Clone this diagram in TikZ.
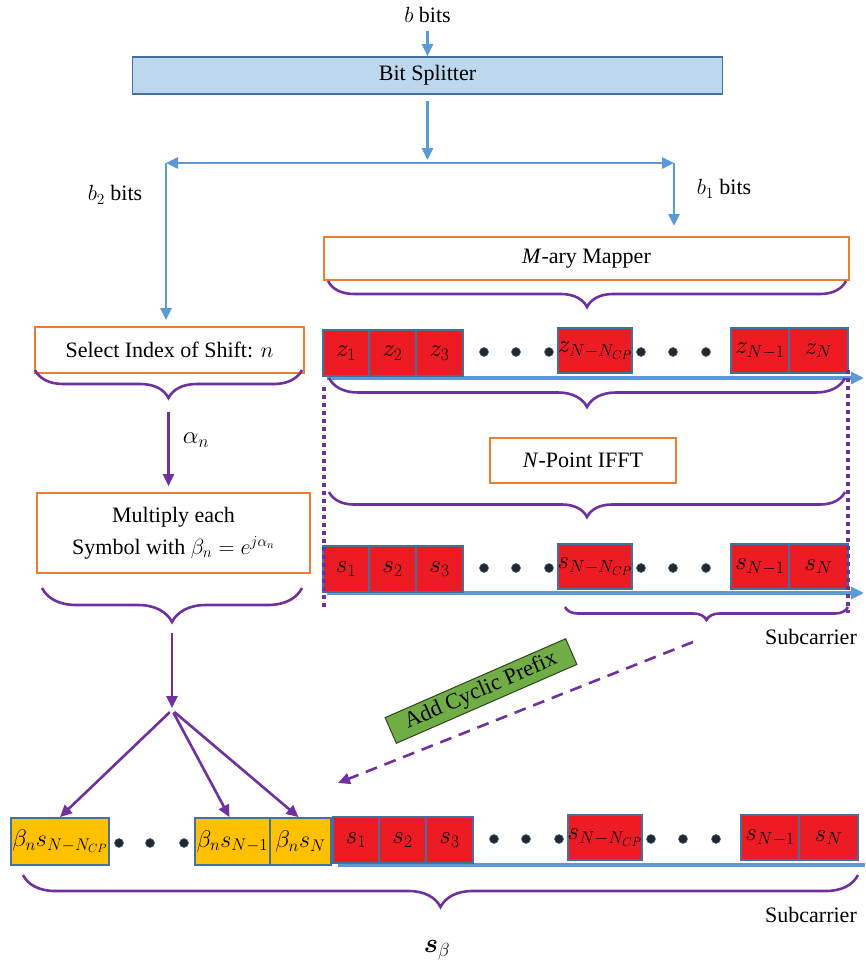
\RequirePackage{fix-cm}
\documentclass[tikz,border=0pt]{standalone}
\usepackage{amsmath}
\usepackage{fontspec}
\setmainfont{Liberation Serif}
\usetikzlibrary{arrows.meta,decorations.pathreplacing}

\definecolor{linieblau}{HTML}{5B9BD5}
\definecolor{randblau}{HTML}{41719C}
\definecolor{splitblau}{HTML}{BDD7EE}
\definecolor{rahmenorange}{HTML}{ED7D31}
\definecolor{zellrot}{HTML}{ED1C24}
\definecolor{zellgelb}{HTML}{FFC000}
\definecolor{lila}{HTML}{7030A0}
\definecolor{cpgruen}{HTML}{70AD47}

\tikzset{
  block/.style={draw=rahmenorange, line width=1.8pt, fill=white, inner sep=0pt, align=center},
  zelle/.style={draw=randblau, line width=1.8pt, fill=zellrot, inner sep=0pt, minimum height=46pt, font=\fontsize{25}{28}\selectfont},
  gzelle/.style={zelle, fill=zellgelb, minimum height=47pt, font=\fontsize{24}{28}\selectfont},
  punkt/.style={circle, fill=black!85, draw=randblau, line width=0.6pt, inner sep=0pt, minimum size=9pt},
  blaupfeil/.style={draw=linieblau, line width=2.8pt, -{Triangle[length=12pt,width=11pt]}},
  lilapfeil/.style={draw=lila, line width=2.6pt, -{Triangle[length=12pt,width=11pt]}},
  klammer/.style={draw=lila, line width=2.6pt, decorate, decoration={brace, mirror, amplitude=#1}},
  klammer/.default=20pt,
  achse/.style={draw=linieblau, line width=3.8pt},
}

\begin{document}
\begin{tikzpicture}[x=1pt, y=-1pt, font=\fontsize{22}{26}\selectfont]
  \useasboundingbox (0,0) rectangle (865,963);

  % Eingang und Bit Splitter
  \node (bin) at (427.5,15) {$b$ bits};
  \node[draw=randblau, fill=splitblau, line width=1.8pt, minimum width=590pt, minimum height=37pt, inner sep=0pt] (split) at (427.5,75.5) {Bit Splitter};
  \draw[blaupfeil, shorten <=5pt] (bin) -- (split);

  % Aufteilung in b1 und b2
  \coordinate (gabel) at (427.5,163);
  \coordinate (links) at (166,163);
  \coordinate (rechts) at (674,163);
  \coordinate (b1ende) at (674,226);
  \draw[blaupfeil, shorten <=6pt, shorten >=3pt] (split) -- (gabel);
  \draw[blaupfeil, {Triangle[length=12pt,width=11pt]}-{Triangle[length=12pt,width=11pt]}] (links) -- (rechts);
  \draw[blaupfeil] (rechts) -- (b1ende);
  \node (b2) at (115,195) {$b_2$ bits};
  \node (b1) at (724,189) {$b_1$ bits};

  % M-ary Mapper
  \node[block, minimum width=525pt, minimum height=43pt] (mapper) at (586.5,258.5) {\textit{M}-ary Mapper};
  \draw[klammer=26pt] (328,281) -- (846,281);

  % Achsen der Unterträger
  \draw[achse, -{Triangle[length=13pt,width=12pt]}] (327,378) -- (864,378);
  \draw[achse, -{Triangle[length=13pt,width=12pt]}] (327,593) -- (864,593);
  \draw[achse] (338,865) -- (865,865);

  % Zeilen: z, s und s nach dem Präfix
  \foreach \zn/\sym/\dx/\dy in {z/z/0/0, s/s/0/216, c/s/10/487}{
    \node[zelle, minimum width=46pt] (\zn1) at (346+\dx,353+\dy) {$\sym_1$};
    \node[zelle, minimum width=47pt] (\zn2) at (392.5+\dx,353+\dy) {$\sym_2$};
    \node[zelle, minimum width=47pt] (\zn3) at (439.5+\dx,353+\dy) {$\sym_3$};
    \node[zelle, minimum width=74pt, minimum height=45pt] (\zn4) at (595+\dx,350.5+\dy) {$\sym_{N-N_{CP}}$};
    \node[zelle, minimum width=58pt, minimum height=45pt] (\zn5) at (760+\dx,350.5+\dy) {$\sym_{N-1}$};
    \node[zelle, minimum width=59pt, minimum height=45pt] (\zn6) at (818.5+\dx,350.5+\dy) {$\sym_N$};
    \foreach \px in {484,516,549,641,673,706}
      \node[punkt] (\zn p\px) at (\px+\dx,352+\dy) {};
  }

  % IFFT mit Klammern
  \draw[klammer=29pt] (329,378) -- (845,378);
  \node[block, minimum width=186pt, minimum height=45pt] (ifft) at (583,460.5) {\textit{N}-Point IFFT};
  \draw[klammer=25pt] (329,492) -- (845,492);
  \draw[lila, line width=3.5pt, dash pattern=on 4pt off 4pt] (324,387) -- (324,607);
  \draw[lila, line width=3.5pt, dash pattern=on 4pt off 4pt] (848,370) -- (848,613);
  \draw[klammer=13pt] (565,607) -- (848,607);
  \node (sub1) at (811,637) {Subcarrier};

  % linker Zweig
  \node[block, minimum width=269pt, minimum height=46pt] (sel) at (169.5,350) {Select Index of Shift: $n$};
  \draw[blaupfeil, shorten >=6pt] (links) -- (links |- sel.north);
  \draw[klammer=28pt] (35,370) -- (302,370);
  \coordinate (selspitze) at (168.5,398);
  \node[block, minimum width=273pt, minimum height=80pt, font=\fontsize{22}{32}\selectfont] (mul) at (173.5,533) {Multiply each\\ Symbol with $\beta_n=e^{j\alpha_n}$};
  \draw[lilapfeil, shorten <=14pt, shorten >=6pt] (selspitze) -- (selspitze |- mul.north);
  \node[font=\fontsize{25}{28}\selectfont] (alpha) at (196,440) {$\alpha_n$};
  \draw[klammer=34pt] (42,588) -- (302,588);
  \coordinate (mulspitze) at (172,622);
  \coordinate (knoten) at (172,710);
  \draw[lilapfeil, shorten <=11pt, shorten >=2pt] (mulspitze) -- (knoten);

  % gewichtete Zellen
  \node[gzelle, minimum width=98pt] (g1) at (60,841.5) {$\beta_n s_{N-N_{CP}}$};
  \node[gzelle, minimum width=75pt] (g2) at (232.5,841.5) {$\beta_n s_{N-1}$};
  \node[gzelle, minimum width=61pt] (g3) at (300.5,841.5) {$\beta_n s_N$};
  \foreach \px in {119,150,184}
    \node[punkt] (gp\px) at (\px,843) {};
  \draw[lilapfeil, shorten <=3pt] (knoten) -- (g1.north);
  \draw[lilapfeil, shorten <=3pt] (knoten) -- ([xshift=-3pt]g2.north);
  \draw[lilapfeil, shorten <=3pt] (knoten) -- ([xshift=-2pt]g3.north);

  % Zyklisches Präfix
  \coordinate (cpstart) at (693,642);
  \coordinate (cpende) at (338,783);
  \draw[lilapfeil, dash pattern=on 12pt off 8pt] (cpstart) -- (cpende);
  \node[draw=black!60!cpgruen, fill=cpgruen, line width=1pt, rotate=23.6, minimum width=197pt, minimum height=28pt, inner sep=0pt, font=\fontsize{22.5}{24}\selectfont] (cp) at (481,691) {Add Cyclic Prefix};

  % Gesamtsymbol
  \draw[klammer=32pt] (23,875) -- (858,875);
  \node (sub2) at (811,915) {Subcarrier};
  \node[font=\fontsize{27}{30}\selectfont] (sbeta) at (437,950) {$\boldsymbol{s}_\beta$};
\end{tikzpicture}
\end{document}
